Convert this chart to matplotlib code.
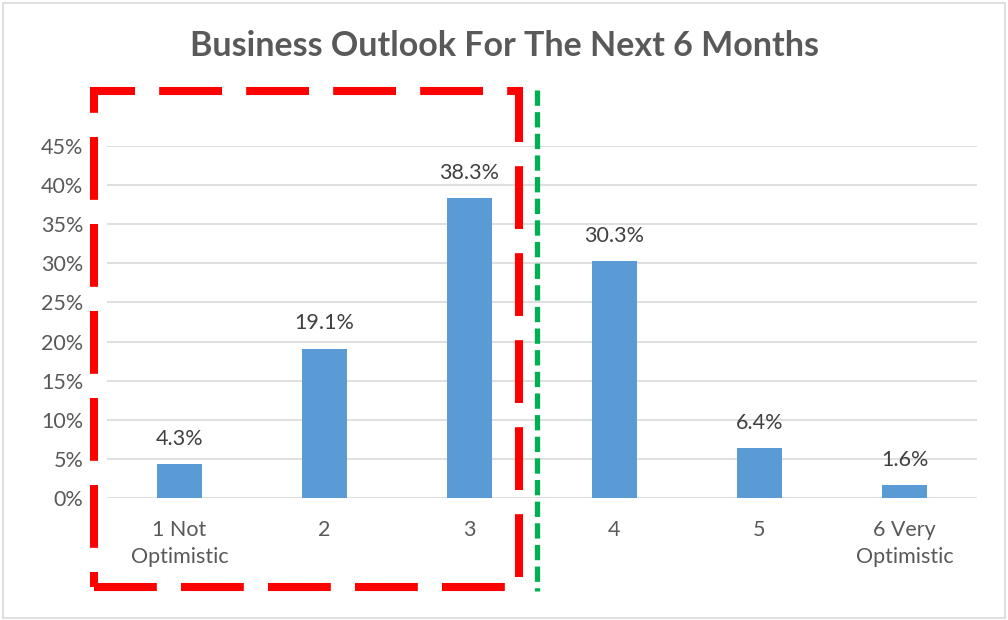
import matplotlib.pyplot as plt
from matplotlib.patches import Rectangle
from matplotlib.lines import Line2D

categories = ["1 Not\nOptimistic", "2", "3", "4", "5", "6 Very\nOptimistic"]
shares = [4.3, 19.1, 38.3, 30.3, 6.4, 1.6]
yticks = [0, 5, 10, 15, 20, 25, 30, 35, 40, 45]

W, H = 1008, 620
fig = plt.figure(figsize=(W / 100, H / 100), dpi=100)
plt.rcParams['font.family'] = ['Lato', 'DejaVu Sans']

# plot area in pixel coordinates (left, top, right, bottom)
L, T, R, B = 107, 146, 977, 498
ax = fig.add_axes([L / W, 1 - B / H, (R - L) / W, (B - T) / H])

x = range(len(categories))
ax.bar(x, shares, width=0.315, color="#5B9BD5", zorder=3)
for xi, v in zip(x, shares):
    ax.annotate(f"{v}%", (xi, v), xytext=(0, 11), textcoords="offset points",
                ha="center", va="bottom", fontsize=15.5, color="#404040")

ax.set_xlim(-0.5, len(categories) - 0.5)
ax.set_ylim(0, 45)
ax.set_yticks(yticks)
ax.set_yticklabels([f"{t}%" for t in yticks])
ax.set_xticks(list(x))
ax.set_xticklabels(categories, linespacing=1.45)
ax.tick_params(length=0, labelsize=15.5, labelcolor="#595959")
ax.tick_params(axis="y", pad=17)
ax.tick_params(axis="x", pad=16)
ax.grid(axis="y", color="#D9D9D9", linewidth=1.2, zorder=0)
for s in ax.spines.values():
    s.set_visible(False)

fig.text(0.5, 1 - 46 / H, "Business Outlook For The Next 6 Months",
         ha="center", va="center", fontsize=24.5, fontweight="bold", color="#595959")

# outer chart border
fig.patches.append(Rectangle((3 / W, 2 / H), 1002 / W, 615 / H, transform=fig.transFigure,
                             fill=False, edgecolor="#D9D9D9", linewidth=1.2))

# red dashed box around categories 1-3
fig.patches.append(Rectangle((94 / W, 1 - 587 / H), (519 - 94) / W, (587 - 91) / H,
                             transform=fig.transFigure, fill=False, edgecolor="#FF0000",
                             linewidth=5.8, linestyle=(0, (7.8, 3.0)), joinstyle="miter"))

# green dotted divider between 3 and 4
fig.lines.append(Line2D([537 / W, 537 / W], [1 - 90 / H, 1 - 591 / H],
                        transform=fig.transFigure, color="#00B050",
                        linewidth=3.8, linestyle=(0, (2.9, 1.2))))

fig.savefig("out.png", dpi=100)
